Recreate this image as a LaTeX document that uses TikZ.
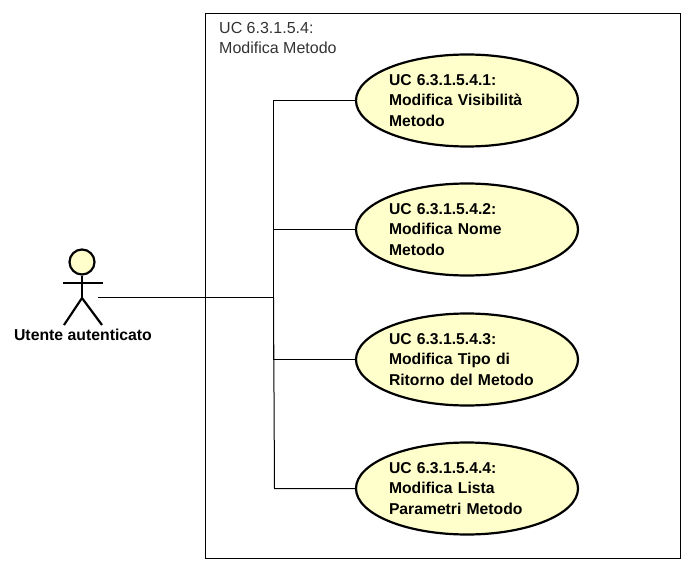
\documentclass[tikz,border=0pt]{standalone}
\usepackage{fontspec}
\setmainfont{Liberation Sans}
\usetikzlibrary{shapes.geometric}

\definecolor{ucfill}{RGB}{255,255,204}

\tikzset{
    usecase/.style={ellipse, draw=black, line width=2.2pt, fill=ucfill, minimum width=222, minimum height=92, inner sep=0pt, text width=156, align=left, font=\fontsize{15.7}{20.4}\selectfont\bfseries},
    boundary/.style={draw=black, line width=1pt, minimum width=475, minimum height=545, inner sep=0pt},
    assoc/.style={draw=black, line width=1pt},
    stick/.style={draw=black, line width=2.2pt},
}

\begin{document}
\begin{tikzpicture}[x=1pt, y=-1pt]
    \useasboundingbox (0,0) rectangle (693,572);

    \node[boundary] (system) at (443,286) {};
    \node[anchor=north west, align=left, inner sep=0pt, font=\fontsize{16}{20.4}\selectfont, text=black!80] (title) at (219,22) {UC 6.3.1.5.4:\\Modifica Metodo};

    % actor
    \node[circle, stick, fill=ucfill, minimum size=25, inner sep=0pt] (head) at (82,262) {};
    \coordinate (hip) at (82,298);
    \coordinate (armL) at (63,283);
    \coordinate (armR) at (103,283);
    \coordinate (footL) at (64,325);
    \coordinate (footR) at (102,325);
    \draw[stick] (head.south) -- (hip);
    \draw[stick] (armL) -- (armR);
    \draw[stick] (footL) -- (hip) -- (footR);
    \node[font=\fontsize{15.8}{18}\selectfont\bfseries] (actor) at (83,335) {Utente autenticato};

    \coordinate (start) at (98,297.5);
    \coordinate (bus) at (273.5,297.5);
    \draw[assoc] (start) -- (bus);

    \foreach \i/\y/\bx/\txt in {1/100.5/273.5/{Modifica Visibilità\\Metodo},
                                2/229.5/273.5/{Modifica Nome\\Metodo},
                                3/359.5/273.5/{Modifica Tipo di\\Ritorno del Metodo},
                                4/488.5/274.5/{Modifica Lista\\Parametri Metodo}} {
        \node[usecase] (uc\i) at (467,\y) {UC 6.3.1.5.4.\i:\\\txt};
        \coordinate (elbow\i) at (\bx,\y);
        \draw[assoc] (bus) -- (elbow\i) -- (uc\i.west);
    }
\end{tikzpicture}
\end{document}
